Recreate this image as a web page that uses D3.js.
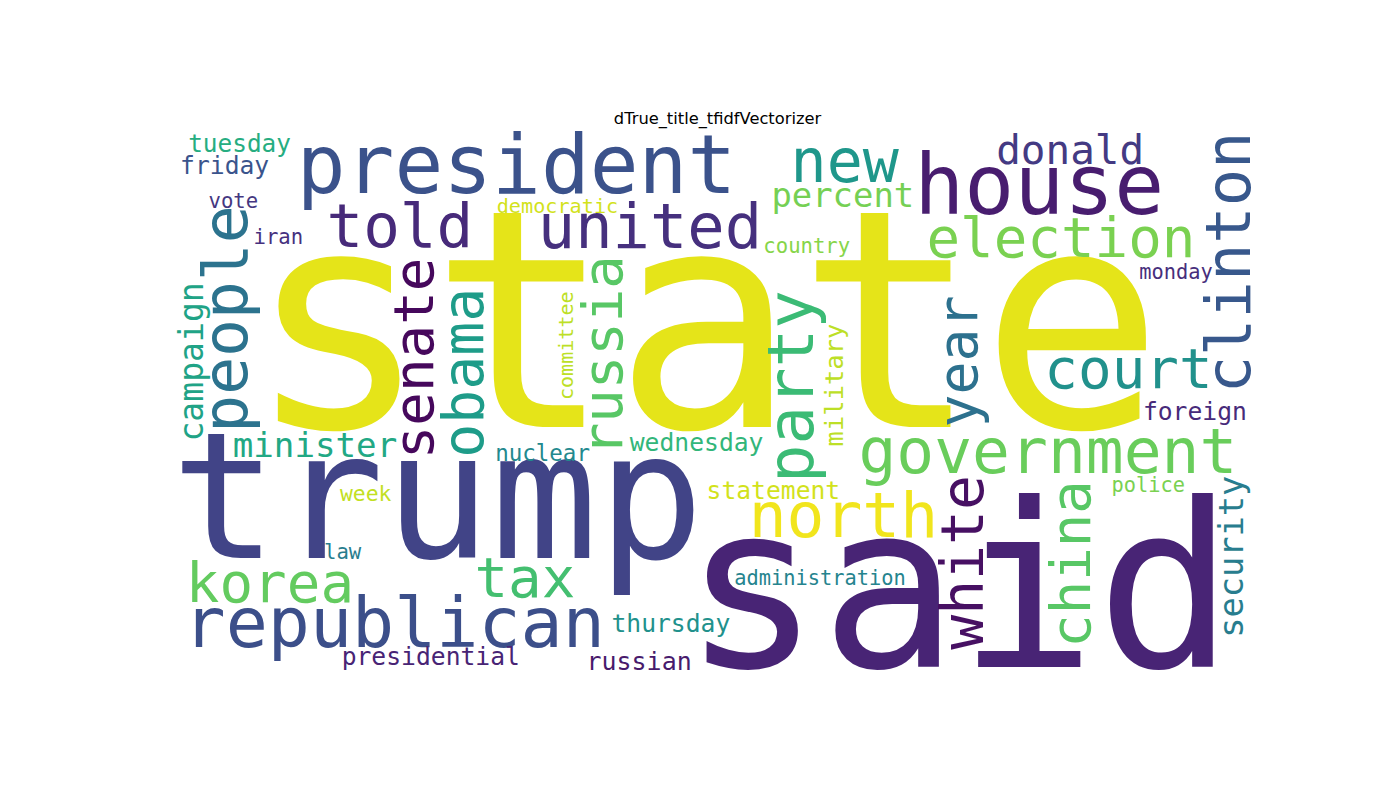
<!DOCTYPE html>
<html>
<head>
<meta charset="utf-8">
<script src="https://cdn.jsdelivr.net/npm/d3@7"></script>
<style>
  html, body { margin: 0; padding: 0; background: #ffffff; }
  svg { display: block; }
</style>
</head>
<body>
<svg id="chart" width="1400" height="800"></svg>
<script>
// word cloud
var words = ["state", "trump", "said", "president", "house", "told", "united", "new", "donald",
    "percent", "election", "country", "democratic", "tuesday", "friday", "vote", "iran", "monday",
    "court", "foreign", "minister", "nuclear", "wednesday", "government", "statement", "week",
    "police", "north", "law", "administration", "korea", "tax", "republican", "thursday",
    "presidential", "russian",
    "people", "campaign", "senate", "obama", "russia", "committee", "party", "military",
    "clinton", "year", "white", "china", "security"];

// font size in cloud pixels (the word's weight)
var weights = [112.4, 65.3, 84.4, 29.9, 30.6, 22.5, 22.9, 22.1, 15.1,
    12.5, 20.6, 7.6, 7.45, 9.0, 9.1, 7.6, 7.6, 7.5,
    20.6, 9.1, 12.6, 8.3, 9.1, 23.2, 9.1, 7.9,
    7.5, 23.2, 7.6, 7.5, 20.6, 20.6, 25.8, 9.1,
    9.1, 9.2,
    23.2, 12.2, 20.6, 20.8, 20.5, 7.4, 23.6, 9.4,
    22.9, 20.2, 21.4, 20.5, 12.4];

// middle of each word's baseline, cloud pixels
var cloudX = [195.4, 96.8, 288.8, 125.9, 318.6, 82.9, 175.1, 246.9, 330.0,
    246.2, 326.6, 232.9, 141.0, 23.8, 18.3, 21.5, 38.1, 369.0,
    351.5, 376.0, 51.6, 135.5, 192.3, 321.8, 220.6, 70.3,
    358.8, 246.4, 61.8, 237.8, 35.0, 129.0, 80.8, 182.8,
    94.3, 171.1,
    26.4, 10.4, 95.2, 113.7, 164.7, 146.6, 235.3, 246.4,
    396.3, 295.6, 298.0, 337.3, 393.8];
var cloudY = [108.5, 156.9, 196.8, 22.3, 30.1, 42.0, 42.6, 18.0, 11.5,
    27.3, 45.7, 44.4, 29.7, 7.2, 15.2, 27.6, 41.0, 53.9,
    94.2, 105.9, 119.4, 121.0, 117.2, 125.6, 135.1, 135.8,
    132.3, 148.9, 157.3, 166.7, 172.9, 171.0, 189.5, 183.9,
    196.2, 198.1,
    68.7, 84.5, 83.2, 88.5, 82.2, 78.5, 93.6, 93.0,
    47.8, 84.3, 158.4, 159.0, 156.3];

// 1 = turned to read bottom to top
var vertical = [0, 0, 0, 0, 0, 0, 0, 0, 0,
    0, 0, 0, 0, 0, 0, 0, 0, 0,
    0, 0, 0, 0, 0, 0, 0, 0,
    0, 0, 0, 0, 0, 0, 0, 0,
    0, 0,
    1, 1, 1, 1, 1, 1, 1, 1,
    1, 1, 1, 1, 1];

// position on the viridis map
var tones = [0.96, 0.2, 0.1, 0.25, 0.08, 0.12, 0.14, 0.53, 0.17,
    0.79, 0.8, 0.82, 0.93, 0.62, 0.26, 0.16, 0.14, 0.13,
    0.5, 0.12, 0.6, 0.47, 0.66, 0.77, 0.93, 0.91,
    0.8, 0.98, 0.42, 0.45, 0.76, 0.7, 0.24, 0.5,
    0.1, 0.07,
    0.38, 0.58, 0.02, 0.55, 0.74, 0.9, 0.68, 0.9,
    0.27, 0.37, 0.04, 0.74, 0.42];

var title = "dTrue_title_tfidfVectorizer";

var W = 1400, H = 800;
var cloudW = 400, cloudH = 200;

// matplotlib axes box, shrunk to the image aspect
var axL = 0.125 * W, axR = 0.9 * W, axT = (1 - 0.88) * H, axB = (1 - 0.11) * H;
var imgW = axR - axL, imgH = imgW * cloudH / cloudW;
var imgT = (axT + axB) / 2 - imgH / 2;

var x = d3.scaleLinear().domain([0, cloudW]).range([axL, axR]);
var y = d3.scaleLinear().domain([0, cloudH]).range([imgT, imgT + imgH]);
var size = d3.scaleLinear().domain([0, cloudH]).range([0, imgH]);
var color = d3.scaleSequential(d3.interpolateViridis).domain([0, 1]);

var data = words.map(function(w, i) {
    return { text: w, weight: weights[i], cx: cloudX[i], cy: cloudY[i], vert: vertical[i], tone: tones[i] };
});

var svg = d3.select("#chart");

svg.append("rect").attr("width", W).attr("height", H).attr("fill", "#ffffff");

svg.append("g").selectAll("text").data(data).enter()
    .append("text")
        .attr("transform", function(d) {
            return "translate(" + x(d.cx) + "," + y(d.cy) + ")" + (d.vert ? " rotate(-90)" : "");
        })
        .attr("text-anchor", "middle")
        .attr("font-family", "'DejaVu Sans Mono', 'Liberation Mono', monospace")
        .attr("font-size", function(d) { return size(d.weight) + "px"; })
        .attr("fill", function(d) { return color(d.tone); })
        .text(function(d) { return d.text; });

svg.append("text")
    .attr("x", (axL + axR) / 2)
    .attr("y", imgT - 8.3)
    .attr("text-anchor", "middle")
    .attr("font-family", "'DejaVu Sans', sans-serif")
    .attr("font-size", "16.3px")
    .attr("fill", "#000000")
    .text(title);
</script>
</body>
</html>
